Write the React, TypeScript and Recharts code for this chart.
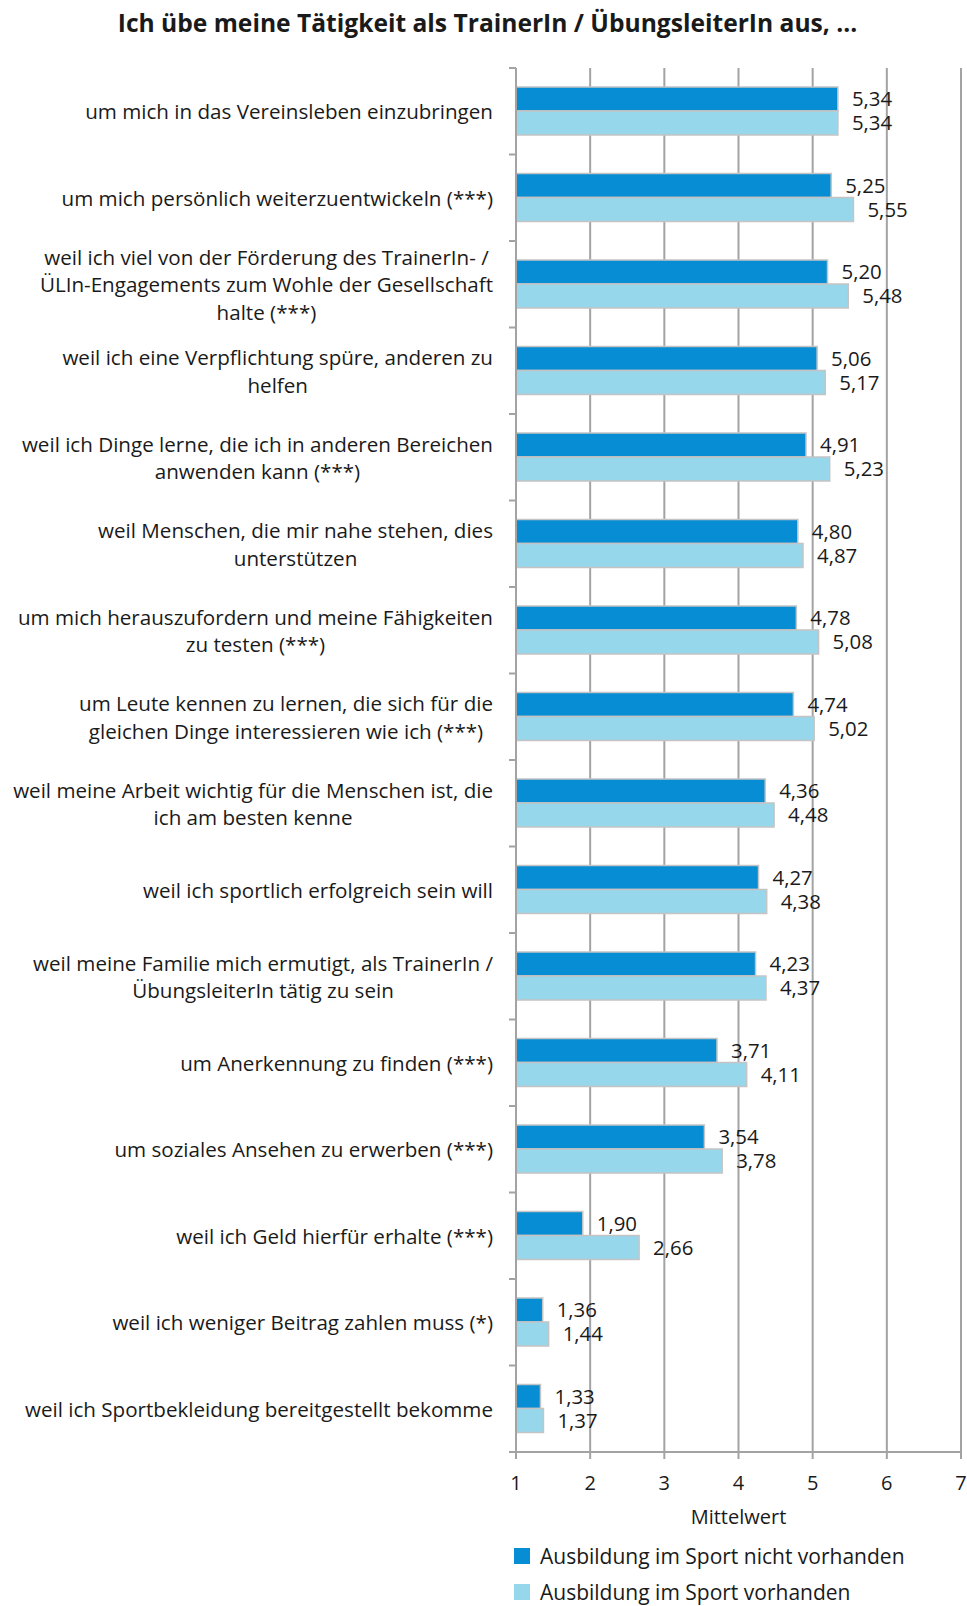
import React from 'react';
import {
  BarChart,
  Bar,
  XAxis,
  YAxis,
  CartesianGrid,
  LabelList
} from 'recharts';

const TITLE = 'Ich übe meine Tätigkeit als TrainerIn / ÜbungsleiterIn aus, ...';

const categories: string[][] = [
  ['um mich in das Vereinsleben einzubringen'],
  ['um mich persönlich weiterzuentwickeln (***)'],
  ['weil ich viel von der Förderung des TrainerIn- /', 'ÜLIn-Engagements zum Wohle der Gesellschaft', 'halte (***)'],
  ['weil ich eine Verpflichtung spüre, anderen zu', 'helfen'],
  ['weil ich Dinge lerne, die ich in anderen Bereichen', 'anwenden kann (***)'],
  ['weil Menschen, die mir nahe stehen, dies', 'unterstützen'],
  ['um mich herauszufordern und meine Fähigkeiten', 'zu testen (***)'],
  ['um Leute kennen zu lernen, die sich für die', 'gleichen Dinge interessieren wie ich (***)'],
  ['weil meine Arbeit wichtig für die Menschen ist, die', 'ich am besten kenne'],
  ['weil ich sportlich erfolgreich sein will'],
  ['weil meine Familie mich ermutigt, als TrainerIn /', 'ÜbungsleiterIn tätig zu sein'],
  ['um Anerkennung zu finden (***)'],
  ['um soziales Ansehen zu erwerben (***)'],
  ['weil ich Geld hierfür erhalte (***)'],
  ['weil ich weniger Beitrag zahlen muss (*)'],
  ['weil ich Sportbekleidung bereitgestellt bekomme']
];

const ohneAusbildung = [5.34, 5.25, 5.20, 5.06, 4.91, 4.80, 4.78, 4.74, 4.36, 4.27, 4.23, 3.71, 3.54, 1.90, 1.36, 1.33];
const mitAusbildung = [5.34, 5.55, 5.48, 5.17, 5.23, 4.87, 5.08, 5.02, 4.48, 4.38, 4.37, 4.11, 3.78, 2.66, 1.44, 1.37];

const xTicks = [1, 2, 3, 4, 5, 6, 7];

const seriesNames = ['Ausbildung im Sport nicht vorhanden', 'Ausbildung im Sport vorhanden'];

const DARK = '#068dd3';
const LIGHT = '#97d7eb';
const GRID = '#a3a3a3';
const FONT = '"Open Sans", sans-serif';
const LABEL_SIZE = 20.6;

const W = 967;
const H = 1606;
const PLOT_TOP = 68;
const PLOT_BOTTOM = 1452;
const AXIS_X = 516;
const X_AXIS_H = 80;

const data = categories.map((lines, i) => ({
  key: String(i),
  lines,
  ohne: ohneAusbildung[i],
  mit: mitAusbildung[i]
}));

let ctx: CanvasRenderingContext2D | null = null;
const measure = (txt: string) => {
  if (!ctx) {
    ctx = document.createElement('canvas').getContext('2d');
  }
  if (!ctx) return txt.length * 10;
  ctx.font = `500 ${LABEL_SIZE}px "Open Sans"`;
  return ctx.measureText(txt).width;
};

const fmt = (v: any) => Number(v).toFixed(2).replace('.', ',');

const CategoryTick = ({ y, payload, index }: any) => {
  const item = data[Number(payload.value)];
  const band = (PLOT_BOTTOM - PLOT_TOP) / data.length;
  const lines = item.lines;
  const maxW = Math.max(...lines.map(measure));
  const right = AXIS_X - 23;
  const cx = right - maxW / 2;
  const lh = 27.5;
  const startY = y - ((lines.length - 1) * lh) / 2;
  const multi = lines.length > 1;
  return (
    <g>
      <line x1={AXIS_X - 7} x2={AXIS_X} y1={y - band / 2} y2={y - band / 2} stroke={GRID} strokeWidth={2} />
      {index === data.length - 1 && (
        <line x1={AXIS_X - 7} x2={AXIS_X} y1={y + band / 2} y2={y + band / 2} stroke={GRID} strokeWidth={2} />
      )}
      <text
        x={multi ? cx : right}
        y={startY}
        textAnchor={multi ? 'middle' : 'end'}
        dominantBaseline="central"
        fontFamily={FONT}
        fontWeight={500}
        fontSize={LABEL_SIZE}
        fill="#1a1a1a"
      >
        {lines.map((l: string, i: number) => (
          <tspan key={i} x={multi ? cx : right} dy={i === 0 ? 0 : lh}>{l}</tspan>
        ))}
      </text>
    </g>
  );
};

const ValueTick = ({ x, y, payload }: any) => (
  <g>
    <line x1={x} x2={x} y1={PLOT_BOTTOM} y2={PLOT_BOTTOM + 7} stroke={GRID} strokeWidth={2} />
    <text x={x} y={y + 22} textAnchor="middle" dominantBaseline="central" fontFamily={FONT} fontWeight={500} fontSize={20} fill="#1a1a1a">
      {payload.value}
    </text>
  </g>
);

const App: React.FC = () => {
  return (
    <div style={{ position: 'absolute', left: 0, top: 0, width: W, height: H, background: '#fff' }}>
      <div
        style={{
          position: 'absolute',
          top: 6,
          left: 0,
          width: W,
          textAlign: 'center',
          paddingLeft: 8,
          boxSizing: 'border-box',
          fontFamily: FONT,
          fontWeight: 'bold',
          fontSize: 24.6,
          color: '#1a1a1a'
        }}
      >
        {TITLE}
      </div>
      <BarChart
        width={W}
        height={H}
        data={data}
        layout="vertical"
        margin={{ top: PLOT_TOP, right: 6, bottom: H - PLOT_BOTTOM - X_AXIS_H, left: 0 }}
        barCategoryGap={19}
        barGap={0}
      >
        <CartesianGrid vertical horizontal={false} stroke={GRID} strokeWidth={2} />
        <XAxis
          type="number"
          domain={[1, 7]}
          ticks={xTicks}
          height={X_AXIS_H}
          stroke={GRID}
          strokeWidth={2}
          tickLine={false}
          tick={<ValueTick />}
          label={{ value: 'Mittelwert', position: 'insideBottom', offset: 8, fontFamily: FONT, fontWeight: 500, fontSize: 20, fill: '#1a1a1a' }}
        />
        <YAxis
          type="category"
          dataKey="key"
          width={AXIS_X}
          stroke={GRID}
          strokeWidth={2}
          tickLine={false}
          tick={<CategoryTick />}
          interval={0}
        />
        <Bar dataKey="ohne" fill={DARK} stroke="#c4c4c4" strokeWidth={1.5} isAnimationActive={false}>
          <LabelList dataKey="ohne" position="right" offset={14} formatter={fmt} fontFamily={FONT} fontWeight={500} fontSize={20.4} fill="#1a1a1a" />
        </Bar>
        <Bar dataKey="mit" fill={LIGHT} stroke="#c4c4c4" strokeWidth={1.5} isAnimationActive={false}>
          <LabelList dataKey="mit" position="right" offset={14} formatter={fmt} fontFamily={FONT} fontWeight={500} fontSize={20.4} fill="#1a1a1a" />
        </Bar>
      </BarChart>
      <div style={{ position: 'absolute', left: 514, top: 1538, fontFamily: FONT, fontSize: 21, color: '#1a1a1a' }}>
        {seriesNames.map((name, i) => (
          <div key={name} style={{ display: 'flex', alignItems: 'center', height: 36 }}>
            <span style={{ width: 16, height: 16, background: i === 0 ? DARK : LIGHT, marginRight: 10, display: 'inline-block' }} />
            {name}
          </div>
        ))}
      </div>
    </div>
  );
};

export default App;
